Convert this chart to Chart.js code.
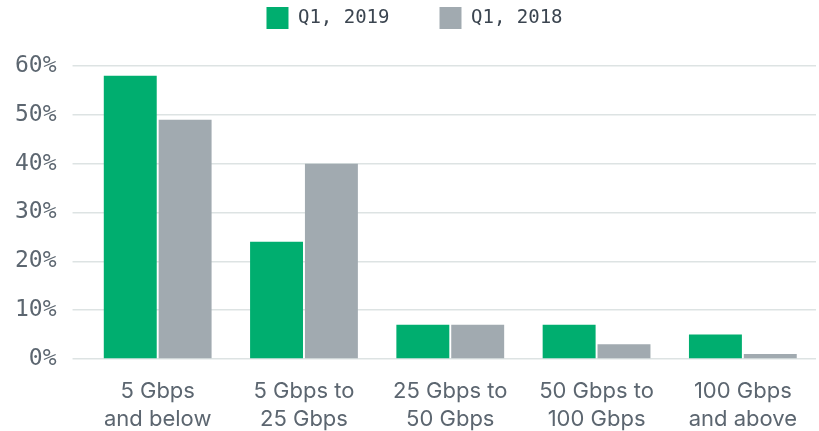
<!DOCTYPE html>
<html>
<head>
<meta charset="utf-8">
<script src="https://cdn.jsdelivr.net/npm/chart.js@4"></script>
<style>
html,body{margin:0;padding:0;background:#fff;}
#wrap{width:819px;height:431px;position:relative;}
</style>
</head>
<body>
<div id="wrap"><canvas id="c"></canvas></div>
<script>
const categories = [["5 Gbps","and below"],["5 Gbps to","25 Gbps"],["25 Gbps to","50 Gbps"],["50 Gbps to","100 Gbps"],["100 Gbps","and above"]];
const seriesNames = ["Q1, 2019","Q1, 2018"];
const q1_2019 = [58,24,7,7,5];
const q1_2018 = [49,40,7,3,1];
const yTicks = [0,10,20,30,40,50,60];

const legendFix = {
  id:'legendFix',
  beforeLayout(chart){
    const lg = chart.legend;
    if(lg && !lg._wrapped){
      const f = lg.fit.bind(lg);
      lg.fit = function(){ f(); this.height = 109; };
      lg._wrapped = true;
    }
  },
  afterLayout(chart){
    const lg = chart.legend;
    if(lg){ lg.left += 7; lg.right += 7; }
  }
};

new Chart(document.getElementById('c'),{
  type:'bar',
  data:{
    labels:categories,
    datasets:[
      {label:seriesNames[0],data:q1_2019,backgroundColor:'#00ae6f',categoryPercentage:0.75,barPercentage:0.965},
      {label:seriesNames[1],data:q1_2018,backgroundColor:'#a1aab0',categoryPercentage:0.75,barPercentage:0.965}
    ]
  },
  plugins:[legendFix],
  options:{
    responsive:true,maintainAspectRatio:false,animation:false,
    layout:{padding:{left:-1,right:3,top:-43,bottom:-13}},
    plugins:{
      tooltip:{enabled:false},
      legend:{position:'top',align:'center',
        labels:{boxWidth:22,boxHeight:22,padding:50,color:'#3b4550',
          font:{family:'DejaVu Sans Mono',size:19}}}
    },
    scales:{
      x:{grid:{display:false},border:{display:false},
        ticks:{color:'#5c6670',font:{family:'Inter',size:22,lineHeight:1.25},padding:11,maxRotation:0}},
      y:{min:0,max:60,
        afterBuildTicks:(s)=>{s.ticks=yTicks.map(v=>({value:v}));},
        grid:{color:'#dde3e3',lineWidth:1.5,tickLength:12,drawTicks:true},
        border:{display:false},
        ticks:{color:'#5c6670',font:{family:'DejaVu Sans Mono',size:23},padding:16,callback:v=>v+'%'}}
    }
  }
});
</script>
</body>
</html>
